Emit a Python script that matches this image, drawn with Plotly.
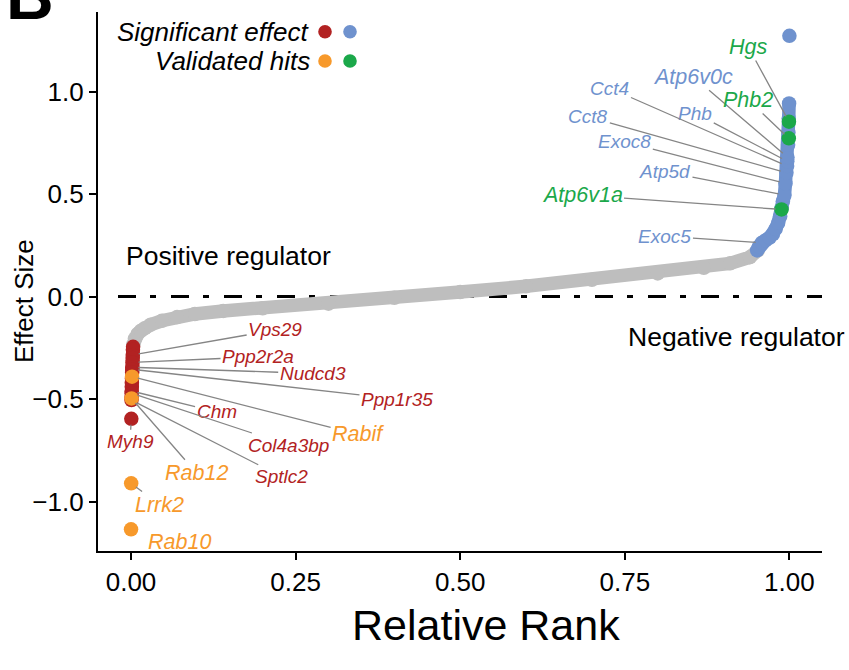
import plotly.graph_objects as go

# ---------------- data ----------------
# non-significant genes along the sorted curve (relative rank, effect size)
gray_rank = [0.0035, 0.006, 0.01, 0.015, 0.021, 0.03, 0.047, 0.07, 0.097, 0.14, 0.2,
             0.3, 0.4, 0.5, 0.6, 0.7, 0.8, 0.87, 0.91, 0.94, 0.952]
gray_effect = [-0.235, -0.205, -0.183, -0.167, -0.154, -0.137, -0.118, -0.1, -0.085, -0.07, -0.057,
               -0.035, -0.006, 0.022, 0.05, 0.082, 0.113, 0.14, 0.162, 0.192, 0.225]

# significant, positive side (blue)
blue_rank = [0.951, 0.954, 0.958, 0.964, 0.970, 0.975, 0.979, 0.983, 0.986, 0.988, 0.990,
             0.9925, 0.994, 0.9955, 0.9965, 0.9968, 0.997, 0.998, 0.9985, 0.999, 0.9995]
blue_effect = [0.225, 0.245, 0.262, 0.275, 0.288, 0.305, 0.33, 0.36, 0.39, 0.43, 0.465,
               0.495, 0.552, 0.604, 0.637, 0.66, 0.68, 0.74, 0.80, 0.87, 0.942]
blue_top_rank = [1.0]
blue_top_effect = [1.272]

# significant, negative side (red)
red_rank = [0.0032, 0.0029, 0.0027, 0.0025, 0.0023, 0.0021, 0.0020, 0.0018, 0.0015,
            0.0013, 0.0012, 0.0011, 0.0010, 0.0009, 0.0008]
red_effect = [-0.245, -0.26, -0.285, -0.30, -0.321, -0.345, -0.355, -0.37, -0.40,
              -0.42, -0.44, -0.461, -0.472, -0.49, -0.505]
red_out_rank = [0.0005]
red_out_effect = [-0.596]

# validated hits
orange_gene = ["Rabif", "Rab12", "Lrrk2", "Rab10"]
orange_rank = [0.0016, 0.00085, 0.0003, 0.0001]
orange_effect = [-0.391, -0.497, -0.911, -1.135]

green_gene = ["Hgs", "Phb2", "Atp6v1a"]
green_rank = [0.9993, 0.9991, 0.988]
green_effect = [0.853, 0.772, 0.425]

# labelled significant genes
blue_lab_gene = ["Atp6v0c", "Phb", "Cct4", "Cct8", "Exoc8", "Atp5d", "Exoc5"]
blue_lab_rank = [0.997, 0.9968, 0.9965, 0.9955, 0.994, 0.9925, 0.958]
blue_lab_effect = [0.68, 0.66, 0.637, 0.604, 0.552, 0.495, 0.262]

red_lab_gene = ["Vps29", "Ppp2r2a", "Nudcd3", "Ppp1r35", "Chm", "Col4a3bp", "Sptlc2", "Myh9"]
red_lab_rank = [0.0027, 0.0023, 0.0021, 0.0020, 0.0011, 0.0010, 0.0008, 0.0005]
red_lab_effect = [-0.285, -0.321, -0.345, -0.355, -0.461, -0.472, -0.505, -0.596]

tick_vals_x = [0, 0.25, 0.5, 0.75, 1.0]
tick_text_x = ["0.00", "0.25", "0.50", "0.75", "1.00"]
tick_vals_y = [-1.0, -0.5, 0.0, 0.5, 1.0]
tick_text_y = ["\u22121.0", "\u22120.5", "0.0", "0.5", "1.0"]

# ---------------- label placement (text positions, styling) ----------------
label_pos = {
    "Vps29": (0.219, -0.163), "Ppp2r2a": (0.193, -0.294), "Nudcd3": (0.276, -0.375),
    "Ppp1r35": (0.404, -0.50), "Rabif": (0.345, -0.672), "Chm": (0.130, -0.562),
    "Col4a3bp": (0.239, -0.724), "Sptlc2": (0.229, -0.879), "Rab12": (0.0998, -0.862),
    "Myh9": (-0.0015, -0.708), "Lrrk2": (0.044, -1.017), "Rab10": (0.0744, -1.196),
    "Hgs": (0.9376, 1.217), "Atp6v0c": (0.854, 1.072), "Cct4": (0.7275, 1.016),
    "Phb2": (0.9376, 0.9585), "Phb": (0.857, 0.894), "Cct8": (0.6946, 0.877),
    "Exoc8": (0.750, 0.755), "Atp5d": (0.811, 0.609), "Atp6v1a": (0.685, 0.495),
    "Exoc5": (0.811, 0.295),
}
no_segment = {"Rab10"}
big_labels = {"Atp6v0c"}

RED = "#B22222"
BLUE = "#6F92CE"
ORANGE = "#F7992B"
GREEN = "#1BA84A"
GRAY = "#BEBEBE"
SEG = "#858585"
FONT = "Liberation Sans, Arial, Helvetica, sans-serif"
PT = 14.5  # point diameter
SMALL, BIG = 19, 21.5

fig = go.Figure()

def band(xs, ys, color):
    fig.add_trace(go.Scatter(x=xs, y=ys, mode="lines+markers",
                             line=dict(color=color, width=PT - 1),
                             marker=dict(color=color, size=PT, line=dict(width=0)),
                             hoverinfo="skip", showlegend=False))

def pts(xs, ys, color):
    fig.add_trace(go.Scatter(x=xs, y=ys, mode="markers",
                             marker=dict(color=color, size=PT, line=dict(width=0)),
                             hoverinfo="skip", showlegend=False))

band(gray_rank, gray_effect, GRAY)
band(blue_rank, blue_effect, BLUE)
pts(blue_top_rank, blue_top_effect, BLUE)
band(red_rank, red_effect, RED)
pts(red_out_rank, red_out_effect, RED)
pts(orange_rank, orange_effect, ORANGE)
pts(green_rank, green_effect, GREEN)

annotations = []

def add_labels(genes, xs, ys, color, size):
    for g, x, y in zip(genes, xs, ys):
        lx, ly = label_pos[g]
        sz = BIG if g in big_labels else size
        if g in no_segment:
            ann = dict(x=lx, y=ly, xref="x", yref="y", text=g, showarrow=False,
                       xanchor="center", yanchor="middle",
                       font=dict(family=FONT, size=sz, color=color, style="italic"))
        else:
            ann = dict(x=x, y=y, xref="x", yref="y", ax=lx, ay=ly, axref="x", ayref="y",
                       text=g, font=dict(family=FONT, size=sz, color=color, style="italic"),
                       showarrow=True, arrowhead=0, arrowwidth=1.3,
                       arrowcolor=SEG, standoff=6, borderpad=1)
        annotations.append(ann)

add_labels(red_lab_gene, red_lab_rank, red_lab_effect, RED, SMALL)
add_labels(blue_lab_gene, blue_lab_rank, blue_lab_effect, BLUE, SMALL)
add_labels(orange_gene, orange_rank, orange_effect, ORANGE, BIG)
add_labels(green_gene, green_rank, green_effect, GREEN, BIG)

# plot area in pixels: x 98..822, y 12..551
L, R, T, B = 98, 822, 12, 551
W, H = R - L, B - T

def px(xp):
    return (xp - L) / W

def py(yp):
    return (B - yp) / H

def note(xp, yp, text, size, xanchor="center", style="normal", angle=0):
    return dict(x=px(xp), y=py(yp), xref="paper", yref="paper", xanchor=xanchor,
                yanchor="middle", text=text, showarrow=False, textangle=angle,
                font=dict(family=FONT, size=size, color="black", style=style))

annotations += [
    note(312, 31.7, "Significant effect", 26, xanchor="right", style="italic"),
    note(312, 61, "Validated hits", 26, xanchor="right", style="italic"),
    note(228, 256, "Positive regulator", 26.5),
    note(736, 337, "Negative regulator", 26.5),
    note(24, 301, "Effect Size", 26, angle=-90),
    note(486, 625, "Relative Rank", 43),
    note(30, -4, "<b>B</b>", 66),
]

shapes = [
    dict(type="line", xref="paper", yref="y", x0=px(118), x1=1, y0=0, y1=0,
         line=dict(color="black", width=3, dash="18px,14px,6px,15px"), layer="below"),
]
for (cx, cy, col) in [(325, 31.7, RED), (350, 31.7, BLUE), (325, 61, ORANGE), (350, 61, GREEN)]:
    shapes.append(dict(type="circle", xref="paper", yref="paper", xsizemode="pixel",
                       ysizemode="pixel", xanchor=px(cx), yanchor=py(cy),
                       x0=-6.8, x1=6.8, y0=-6.8, y1=6.8, fillcolor=col, line=dict(width=0)))

fig.update_layout(
    width=849, height=670,
    margin=dict(l=L, r=849 - R, t=T, b=670 - B),
    paper_bgcolor="white", plot_bgcolor="white",
    font=dict(family=FONT, color="black"),
    annotations=annotations, shapes=shapes, showlegend=False,
    xaxis=dict(range=[-0.0501, 1.0495], tickvals=tick_vals_x, ticktext=tick_text_x,
               ticks="outside", ticklen=7, tickwidth=2, tickcolor="black",
               showline=True, linewidth=2.2, linecolor="black", showgrid=False,
               zeroline=False, tickfont=dict(family=FONT, size=26, color="black")),
    yaxis=dict(range=[-1.241, 1.388], tickvals=tick_vals_y, ticktext=tick_text_y,
               ticks="outside", ticklen=7, tickwidth=2, tickcolor="black",
               showline=True, linewidth=2.2, linecolor="black", showgrid=False,
               zeroline=False, tickfont=dict(family=FONT, size=26, color="black")),
)

fig.write_html("out.html", config={"displayModeBar": False},
               post_script="document.body.style.margin='0px';")
